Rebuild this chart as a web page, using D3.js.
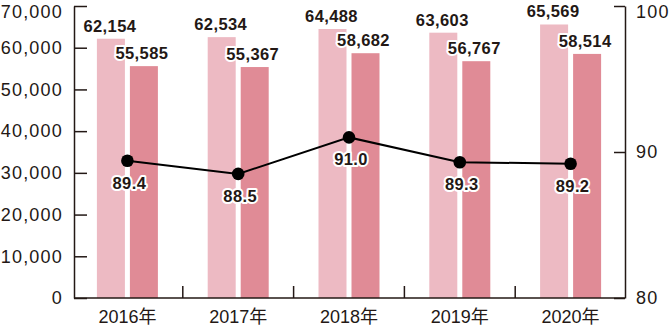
<!DOCTYPE html>
<html>
<head>
<meta charset="utf-8">
<script src="https://cdn.jsdelivr.net/npm/d3@7"></script>
<style>
  html, body { margin: 0; padding: 0; background: #fff; }
  svg { display: block; }
  .axis text { font-family: "Liberation Sans", Arial, sans-serif; font-size: 18px; fill: #231815; letter-spacing: 1.2px; }
  .axis path, .axis line { stroke: #231815; stroke-width: 1.5; }
  .year { font-family: "Liberation Sans", "Noto Sans CJK JP", sans-serif; font-size: 18px; fill: #231815; }
  .lbl { font-family: "Liberation Sans", Arial, sans-serif; font-weight: bold; font-size: 16.5px; fill: #231815;
         letter-spacing: 0.4px; stroke: #fff; stroke-width: 4; stroke-linejoin: round; paint-order: stroke; }
</style>
</head>
<body>
<svg id="chart"></svg>
<script>
// data
const years = ['2016年', '2017年', '2018年', '2019年', '2020年'];
const seriesA = [62154, 62534, 64488, 63603, 65569];
const seriesB = [55585, 55367, 58682, 56767, 58514];
const rate = [89.4, 88.5, 91.0, 89.3, 89.2];
const leftTicks = [0, 10000, 20000, 30000, 40000, 50000, 60000, 70000];
const rightTicks = [80, 90, 100];

const W = 671, H = 326;
const plotTop = 6, plotBottom = 298, plotLeft = 74, plotRight = 625;

const svg = d3.select('#chart').attr('width', W).attr('height', H);

const x = d3.scaleBand().domain(years).range([72, 626]).padding(0);
const xs = d3.scaleBand().domain(['a', 'b']).range([-30.5, 30.5]).paddingInner(5 / 33).paddingOuter(0);
const y = d3.scaleLinear().domain([0, 70000]).range([plotBottom, plotTop]);
const y2 = d3.scaleLinear().domain([80, 100]).range([plotBottom, plotTop]);
const cx = d => x(d) + x.bandwidth() / 2;

// bars
const rows = years.map((yr, i) => ({ yr, a: seriesA[i], b: seriesB[i], r: rate[i] }));
const g = svg.append('g');
g.selectAll('.barA').data(rows).enter().append('rect')
  .attr('x', d => cx(d.yr) + xs('a'))
  .attr('y', d => y(d.a))
  .attr('width', xs.bandwidth())
  .attr('height', d => plotBottom - y(d.a))
  .attr('fill', '#edbac3');
g.selectAll('.barB').data(rows).enter().append('rect')
  .attr('x', d => cx(d.yr) + xs('b'))
  .attr('y', d => y(d.b))
  .attr('width', xs.bandwidth())
  .attr('height', d => plotBottom - y(d.b))
  .attr('fill', '#e08b96');

// axes
const yAxisL = svg.append('g').attr('class', 'axis')
  .attr('transform', 'translate(' + plotLeft + ',0)')
  .call(d3.axisLeft(y).tickValues(leftTicks).tickFormat(d3.format(',')).tickSizeInner(-13).tickSizeOuter(0).tickPadding(11));

const yAxisR = svg.append('g').attr('class', 'axis')
  .attr('transform', 'translate(' + plotRight + ',0)')
  .call(d3.axisRight(y2).tickValues(rightTicks).tickSizeInner(-11).tickSizeOuter(0).tickPadding(11));

// top labels sit a little lower so they stay inside the page
yAxisL.selectAll('.tick').filter(d => d === 70000).select('text').attr('dy', 11);
yAxisR.selectAll('.tick').filter(d => d === 100).select('text').attr('dy', 11);

const bx = svg.append('g').attr('class', 'axis');
bx.append('line').attr('x1', plotLeft).attr('x2', plotRight).attr('y1', plotBottom).attr('y2', plotBottom);
bx.selectAll('.sep').data(years.slice(1)).enter().append('line')
  .attr('x1', d => x(d)).attr('x2', d => x(d))
  .attr('y1', plotBottom - 12).attr('y2', plotBottom);

svg.selectAll('.year').data(years).enter().append('text')
  .attr('class', 'year')
  .attr('x', d => cx(d))
  .attr('y', 323)
  .attr('text-anchor', 'middle')
  .text(d => d);

// bar labels
svg.selectAll('.lblA').data(rows).enter().append('text')
  .attr('class', 'lbl')
  .attr('x', d => cx(d.yr) + xs('a') + xs.bandwidth() / 2 - 1)
  .attr('y', d => y(d.a) - 7)
  .attr('text-anchor', 'middle')
  .text(d => d3.format(',')(d.a));
svg.selectAll('.lblB').data(rows).enter().append('text')
  .attr('class', 'lbl')
  .attr('x', d => cx(d.yr) + xs('b') + xs.bandwidth() / 2 - 2)
  .attr('y', d => y(d.b) - 7)
  .attr('text-anchor', 'middle')
  .text(d => d3.format(',')(d.b));

// rate line
const line = d3.line().x(d => cx(d.yr)).y(d => y2(d.r));
svg.append('path').datum(rows)
  .attr('d', line)
  .attr('fill', 'none')
  .attr('stroke', '#000')
  .attr('stroke-width', 2);
svg.selectAll('.dot').data(rows).enter().append('circle')
  .attr('cx', d => cx(d.yr))
  .attr('cy', d => y2(d.r))
  .attr('r', 6.3)
  .attr('fill', '#000');
svg.selectAll('.lblR').data(rows).enter().append('text')
  .attr('class', 'lbl')
  .attr('x', d => cx(d.yr) + 2)
  .attr('y', d => y2(d.r) + 28)
  .attr('text-anchor', 'middle')
  .text(d => d3.format('.1f')(d.r));
</script>
</body>
</html>
